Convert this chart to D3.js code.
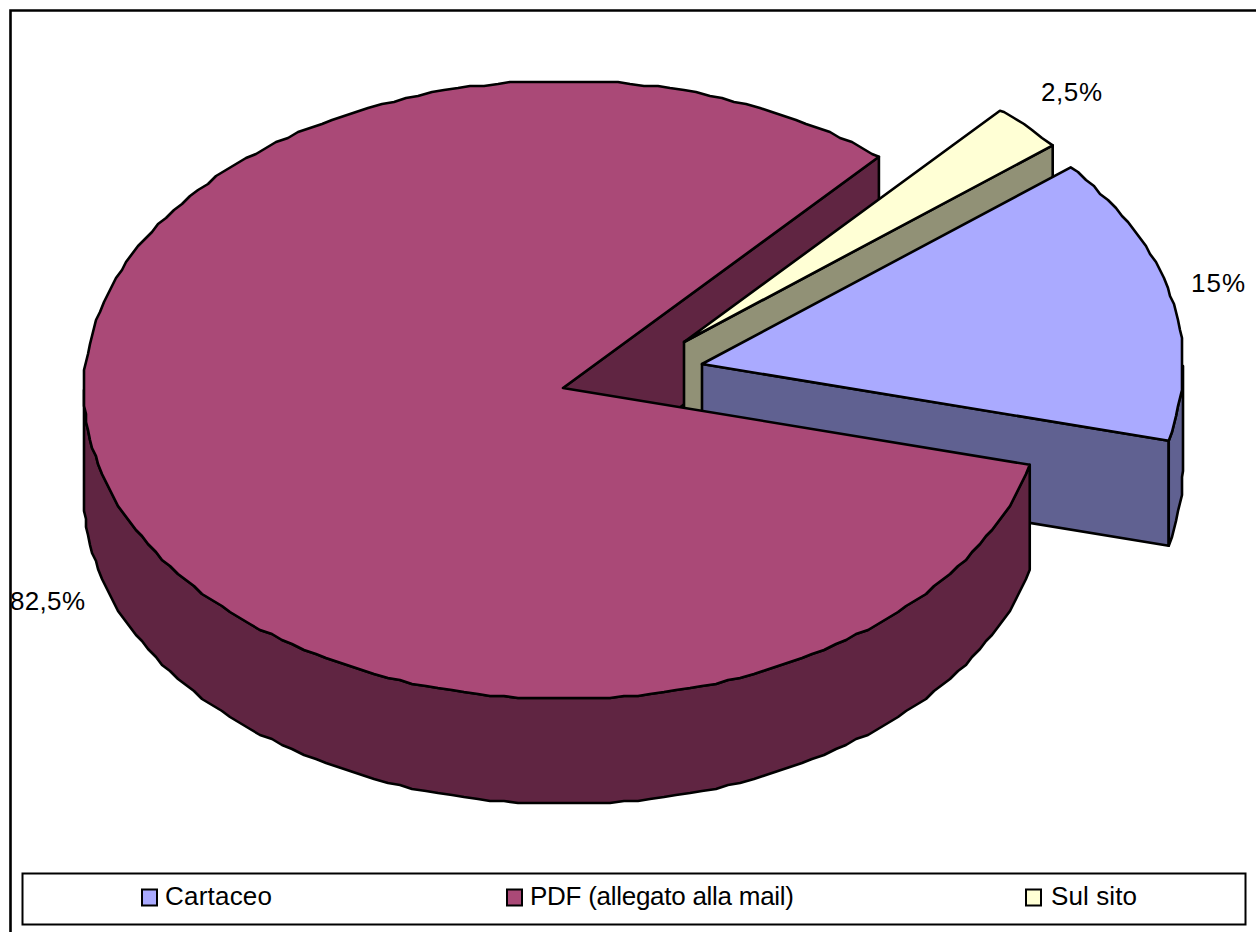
<!DOCTYPE html>
<html>
<head>
<meta charset="utf-8">
<script src="https://cdn.jsdelivr.net/npm/d3@7/dist/d3.min.js"></script>
<style>
html,body{margin:0;padding:0;background:#fff;overflow:hidden}
svg{display:block}
text{font-family:"Liberation Sans",Arial,sans-serif;font-size:26px;fill:#000}
</style>
</head>
<body>
<svg id="chart" width="1256" height="932"></svg>
<script>
const categories = ["Cartaceo", "PDF (allegato alla mail)", "Sul sito"];
const shares = [15, 82.5, 2.5];
const shareLabels = ["15%", "82,5%", "2,5%"];
const topColors = ["#aaaaff", "#aa4977", "#ffffd5"];
const sideColors = ["#606191", "#602542", "#919176"];

// chart layout (not data)
const W = 1256, H = 932;
const centre = {x: 564, y: 390};
const hub = {x: 563, y: 388};
const radius = {x: 480, y: 309};
const depth = 105;
const explode = [{dx: 139, dy: -24}, {dx: 0, dy: 0}, {dx: 121, dy: -46}];
const labelAt = [{x: 1191, y: 292, w: 54}, {x: 10, y: 610, w: 75}, {x: 1041, y: 101, w: 61}];
const legendX = [142, 507, 1026];
const legendTextX = [165, 530, 1051];
const legendTextW = [107, 264, 86];
const firstAngle = 50 * Math.PI / 180;
const snap = 2, stepA = 1.6 * Math.PI / 180;

const svg = d3.select("#chart");
const unit = d3.scaleLinear().domain([-1, 1]);
const sx = unit.copy().range([-radius.x, radius.x]);
const sy = unit.copy().range([-radius.y, radius.y]);

const arcs = d3.pie().sort(null).value(d => d)
  .startAngle(firstAngle).endAngle(firstAngle + 2 * Math.PI)(shares);

const rimPoint = (i, a, exact) => {
  const px = centre.x + explode[i].dx + sx(Math.sin(a)), py = centre.y + explode[i].dy + sy(-Math.cos(a));
  return exact ? [px, py] : [Math.round(px / snap) * snap, Math.round(py / snap) * snap];
};
const apex = i => [hub.x + explode[i].dx, hub.y + explode[i].dy];
const rimPath = (i, a0, a1) => {
  const pts = [rimPoint(i, a0, true)];
  const first = Math.ceil(a0 / stepA + 0.3);
  for (let k = first; k * stepA < a1 - stepA * 0.3; k++) pts.push(rimPoint(i, k * stepA, false));
  pts.push(rimPoint(i, a1, true));
  return pts;
};
const down = p => [p[0], p[1] + depth];
const line = d3.line().curve(d3.curveLinearClosed);
const draw = (pts, fill) => svg.append("path").attr("d", line(pts))
  .attr("fill", fill).attr("stroke", "#000").attr("stroke-width", 2.6).attr("stroke-linejoin", "round");

const endFace = i => {
  const a = apex(i), r = rimPoint(i, arcs[i].endAngle, true);
  draw([a, r, down(r), down(a)], sideColors[i]);
};
const frontRim = i => {
  const a0 = Math.max(arcs[i].startAngle, Math.PI / 2), a1 = Math.min(arcs[i].endAngle, 1.5 * Math.PI);
  if (a1 <= a0) return;
  const p = rimPath(i, a0, a1);
  draw(p.concat(p.slice().reverse().map(down)), sideColors[i]);
};
const topFace = i => draw([apex(i)].concat(rimPath(i, arcs[i].startAngle, arcs[i].endAngle)), topColors[i]);

// percentage labels sit underneath the frame line
svg.selectAll("text.pct").data(shareLabels).join("text").attr("class", "pct")
  .attr("x", (d, i) => labelAt[i].x).attr("y", (d, i) => labelAt[i].y)
  .attr("textLength", (d, i) => labelAt[i].w).text(d => d);

// frame
svg.append("path").attr("d", `M10.5,${H}V10.5H${W}`).attr("fill", "none").attr("stroke", "#000").attr("stroke-width", 2.6);

// back to front
endFace(1);
endFace(2); topFace(2);
endFace(0); frontRim(0); topFace(0);
frontRim(1); topFace(1);

// legend
svg.append("rect").attr("x", 22.5).attr("y", 873.5).attr("width", 1223).attr("height", 51)
  .attr("fill", "#fff").attr("stroke", "#000").attr("stroke-width", 2);
const item = svg.selectAll("g.item").data(categories).join("g").attr("class", "item");
item.append("rect").attr("x", (d, i) => legendX[i]).attr("y", 889.5).attr("width", 15).attr("height", 16)
  .attr("fill", (d, i) => topColors[i]).attr("stroke", "#000").attr("stroke-width", 2);
item.append("text").attr("x", (d, i) => legendTextX[i]).attr("y", 905)
  .attr("textLength", (d, i) => legendTextW[i]).text(d => d);
</script>
</body>
</html>
